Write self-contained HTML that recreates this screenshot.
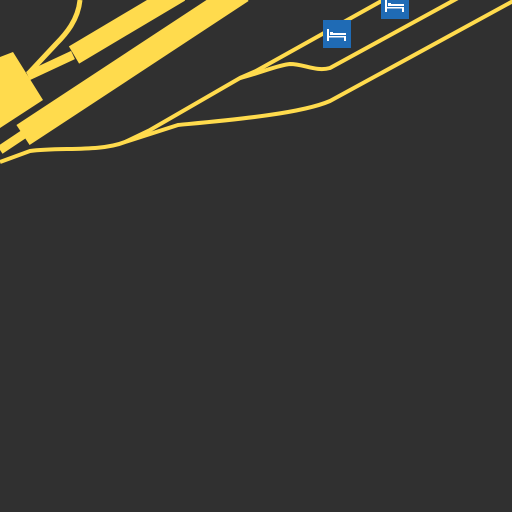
<!DOCTYPE html>
<html><head><meta charset="utf-8"><style>html,body{margin:0;padding:0;background:#303030}svg{display:block}</style></head>
<body>
<svg width="512" height="512" viewBox="0 0 512 512">
<rect width="512" height="512" fill="#303030"/>
<g stroke="#ffdb4d" fill="none" stroke-linejoin="round">
<path d="M80,0 C78,20 66,34 56,44 L28,74" stroke-width="5"/>
<path d="M28,76 L73,55" stroke-width="9"/>
<path d="M74,55 L180,-8" stroke-width="20"/>
<path d="M0,150 L24,134" stroke-width="9"/>
<path d="M23,135 L242,-9" stroke-width="24"/>
<path d="M0,162 L30,151 C60,147 100,152 125,142 L178,125 C230,120 300,114 330,101 L352,89 L515,0" stroke-width="4"/>
<path d="M125,142 L150,130 L240,78 L256,71 L385,-1" stroke-width="4"/>
<path d="M240,78 C260,73 278,65 290,64 C304,64 316,72 330,68 L458,-2" stroke-width="4"/>
</g>
<polygon points="0,57 13,52 43,100 0,128" fill="#ffdb4d"/>
<g>
<rect x="323" y="20" width="28" height="28" fill="#1f6bb5"/>
<g fill="#fff"><rect x="327" y="29" width="2" height="12"/><rect x="330" y="32" width="3" height="3"/><rect x="333" y="33" width="13" height="2"/><rect x="327" y="36" width="19" height="1.5"/><rect x="344" y="36" width="2" height="5"/></g>
</g>
<g>
<rect x="381" y="-9" width="28" height="28" fill="#1f6bb5"/>
<g fill="#fff"><rect x="385" y="0" width="2" height="12"/><rect x="388" y="3" width="3" height="3"/><rect x="391" y="4" width="13" height="2"/><rect x="385" y="7" width="19" height="1.5"/><rect x="402" y="7" width="2" height="5"/></g>
</g>
</svg>
</body></html>
